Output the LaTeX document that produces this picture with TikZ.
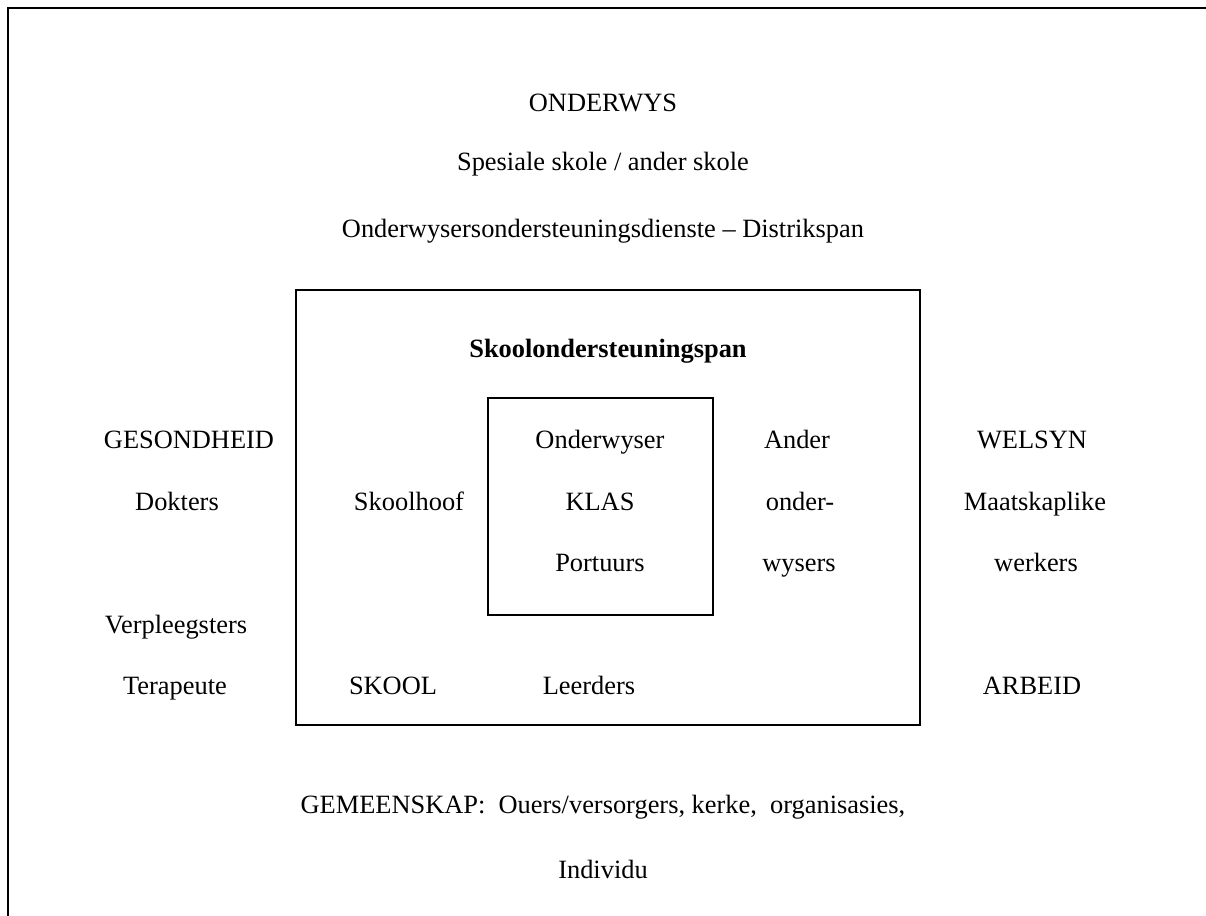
\documentclass[tikz,border=0pt]{standalone}
\usepackage{fontspec}
\setmainfont{Liberation Serif}
\begin{document}
\begin{tikzpicture}[x=0.5pt,y=-0.5pt,
  lbl/.style={inner sep=0pt,anchor=base,font=\fontsize{13.2}{15}\selectfont},
  frame/.style={draw=black,line width=1pt}]
\useasboundingbox (0,0) rectangle (1206,916);
\coordinate (ob) at (8,916);
\coordinate (ot) at (8,8);
\coordinate (or) at (1206,8);
\draw[line width=1.2pt] (ob) -- (ot) -- (or);
\node[frame,minimum width=312pt,minimum height=217.5pt,inner sep=0pt] (outerbox) at (608,507.5) {};
\node[frame,minimum width=112.5pt,minimum height=108.5pt,inner sep=0pt] (innerbox) at (600.5,506.5) {};
\node[lbl] (t1) at (603,111) {ONDERWYS};
\node[lbl] (t2) at (603,170) {Spesiale skole / ander skole};
\node[lbl] (t3) at (603,237) {Onderwysersondersteuningsdienste -- Distrikspan};
\node[lbl,font=\fontsize{13.2}{15}\selectfont\bfseries] (t4) at (608,357) {Skoolondersteuningspan};
\node[lbl] (g1) at (189,448) {GESONDHEID};
\node[lbl] (g2) at (177,510) {Dokters};
\node[lbl] (g3) at (176,633) {Verpleegsters};
\node[lbl] (g4) at (175,694) {Terapeute};
\node[lbl] (s1) at (409,510) {Skoolhoof};
\node[lbl] (s2) at (393,694) {SKOOL};
\node[lbl] (k1) at (600,448) {Onderwyser};
\node[lbl] (k2) at (600,510) {KLAS};
\node[lbl] (k3) at (600,571) {Portuurs};
\node[lbl] (l1) at (589,694) {Leerders};
\node[lbl] (a1) at (797,448) {Ander};
\node[lbl] (a2) at (800,510) {onder-};
\node[lbl] (a3) at (799,571) {wysers};
\node[lbl] (w1) at (1032,448) {WELSYN};
\node[lbl] (w2) at (1035,510) {Maatskaplike};
\node[lbl] (w3) at (1036,571) {werkers};
\node[lbl] (w4) at (1032,694) {ARBEID};
\node[lbl] (c1) at (603,813) {GEMEENSKAP:\ \ Ouers/versorgers, kerke,\ \ organisasies,};
\node[lbl] (c2) at (603,878) {Individu};
\end{tikzpicture}
\end{document}
